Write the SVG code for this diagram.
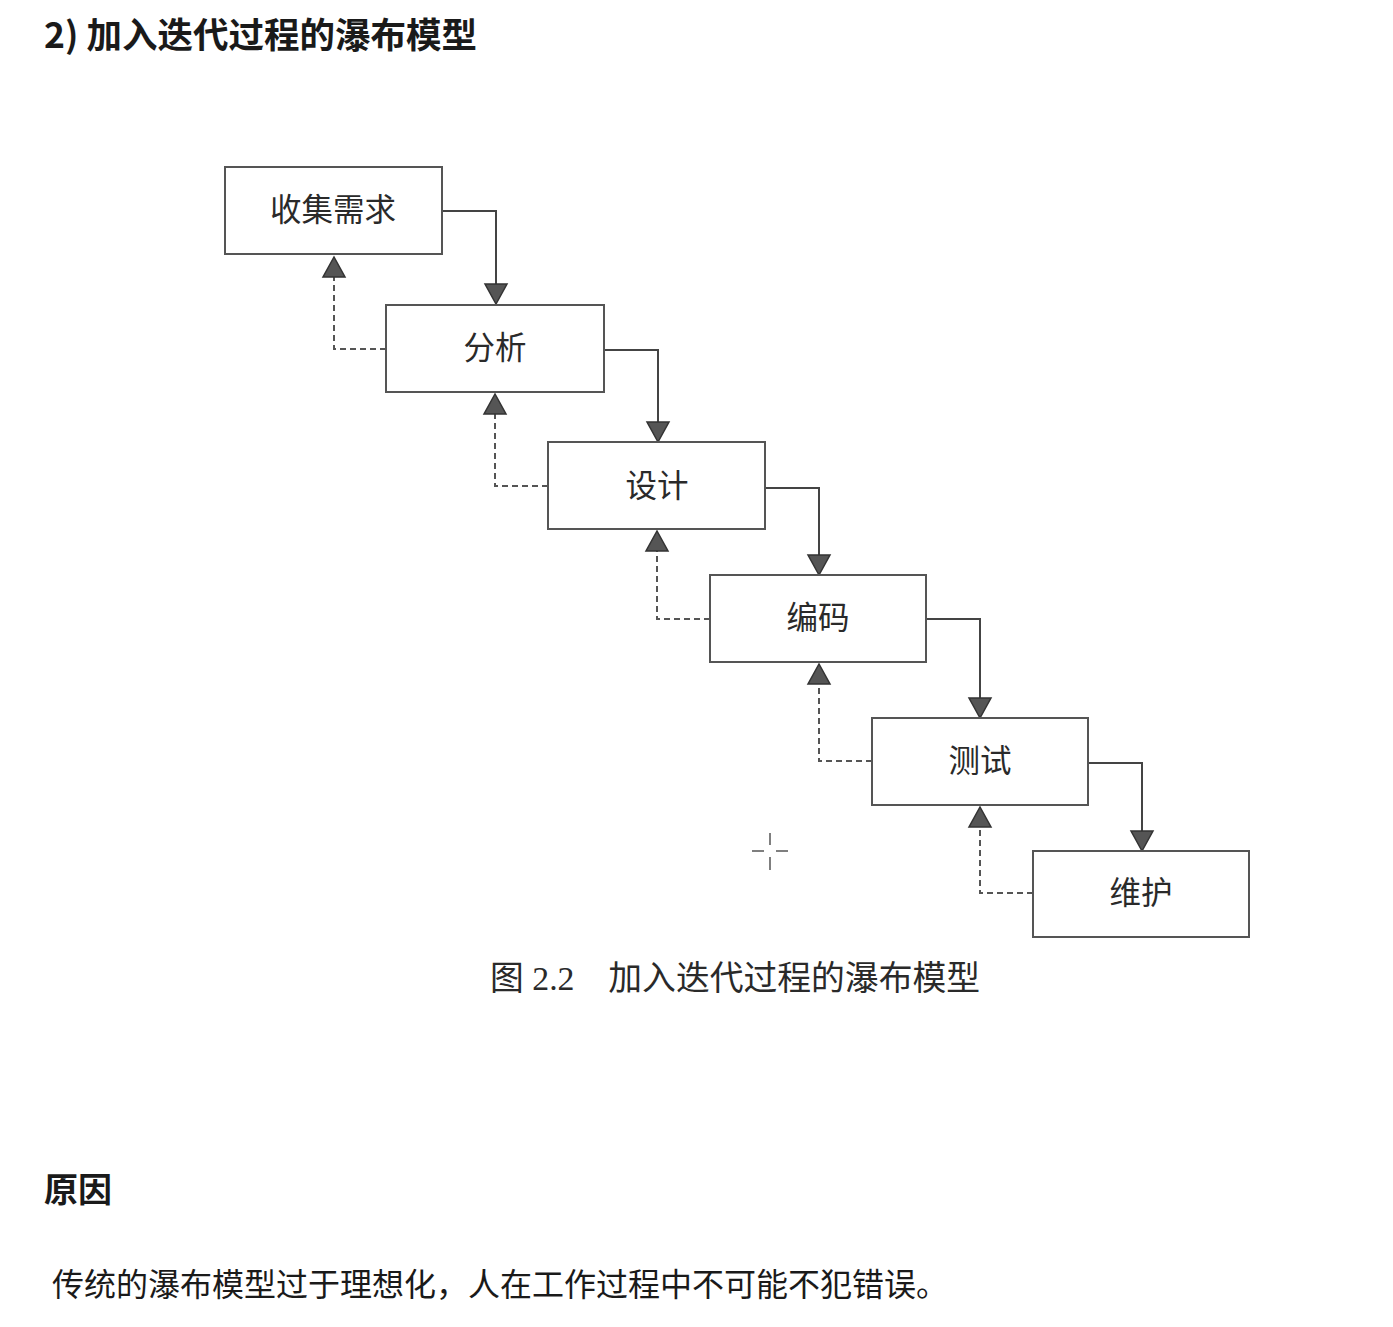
<svg xmlns="http://www.w3.org/2000/svg" width="1393" height="1327" viewBox="0 0 1393 1327">
<style>
.box{fill:#fff;stroke:#555;stroke-width:2}
.lbl{font-family:"Liberation Serif","Noto Sans CJK SC",serif;font-size:31.5px;fill:#2a2a2a;text-anchor:middle;dominant-baseline:central}
.solid{fill:none;stroke:#444;stroke-width:2}
.dash{fill:none;stroke:#555;stroke-width:2;stroke-dasharray:6 4}
.head{fill:#555;stroke:#333;stroke-width:1.5;stroke-linejoin:miter}
.h{font-family:"Noto Sans CJK SC","Liberation Sans",sans-serif;font-weight:bold;fill:#1a1a1a}
</style>
<rect width="1393" height="1327" fill="#fff"/>
<text class="h" x="44" y="48" font-size="35.5">2) 加入迭代过程的瀑布模型</text>

<g id="connectors">
  <!-- forward solid -->
  <polyline class="solid" points="442,211 496,211 496,284"/>
  <polygon class="head" points="485,284 507,284 496,304"/>
  <polyline class="solid" points="604,350 658,350 658,422"/>
  <polygon class="head" points="647,422 669,422 658,442"/>
  <polyline class="solid" points="765,488 819,488 819,555"/>
  <polygon class="head" points="808,555 830,555 819,575"/>
  <polyline class="solid" points="926,619 980,619 980,698"/>
  <polygon class="head" points="969,698 991,698 980,718"/>
  <polyline class="solid" points="1088,763 1142,763 1142,831"/>
  <polygon class="head" points="1131,831 1153,831 1142,851"/>
  <!-- feedback dashed -->
  <polyline class="dash" points="386,349 334,349 334,277"/>
  <polygon class="head" points="323,277 345,277 334,257"/>
  <polyline class="dash" points="548,486 495,486 495,414"/>
  <polygon class="head" points="484,414 506,414 495,394"/>
  <polyline class="dash" points="710,619 657,619 657,551"/>
  <polygon class="head" points="646,551 668,551 657,531"/>
  <polyline class="dash" points="872,761 819,761 819,684"/>
  <polygon class="head" points="808,684 830,684 819,664"/>
  <polyline class="dash" points="1033,893 980,893 980,827"/>
  <polygon class="head" points="969,827 991,827 980,807"/>
</g>

<g id="n1"><rect class="box" x="225" y="167" width="217" height="87"/><text class="lbl" x="333" y="210">收集需求</text></g>
<g id="n2"><rect class="box" x="386" y="305" width="218" height="87"/><text class="lbl" x="495" y="348">分析</text></g>
<g id="n3"><rect class="box" x="548" y="442" width="217" height="87"/><text class="lbl" x="657" y="486">设计</text></g>
<g id="n4"><rect class="box" x="710" y="575" width="216" height="87"/><text class="lbl" x="818" y="618">编码</text></g>
<g id="n5"><rect class="box" x="872" y="718" width="216" height="87"/><text class="lbl" x="980" y="761">测试</text></g>
<g id="n6"><rect class="box" x="1033" y="851" width="216" height="86"/><text class="lbl" x="1141" y="893">维护</text></g>

<g stroke="#555" stroke-width="1.5">
  <line x1="752" y1="851" x2="764" y2="851"/><line x1="776" y1="851" x2="788" y2="851"/>
  <line x1="770" y1="833" x2="770" y2="845"/><line x1="770" y1="857" x2="770" y2="870"/>
</g>

<text x="490" y="990" font-family="Liberation Serif,Noto Sans CJK SC,serif" font-size="33.8" fill="#2a2a2a">图 2.2　加入迭代过程的瀑布模型</text>

<text class="h" x="44" y="1202" font-size="34">原因</text>
<text x="52" y="1296" font-family="Noto Sans CJK SC,Liberation Sans,sans-serif" font-size="32" fill="#1a1a1a">传统的瀑布模型过于理想化，人在工作过程中不可能不犯错误。</text>
</svg>
